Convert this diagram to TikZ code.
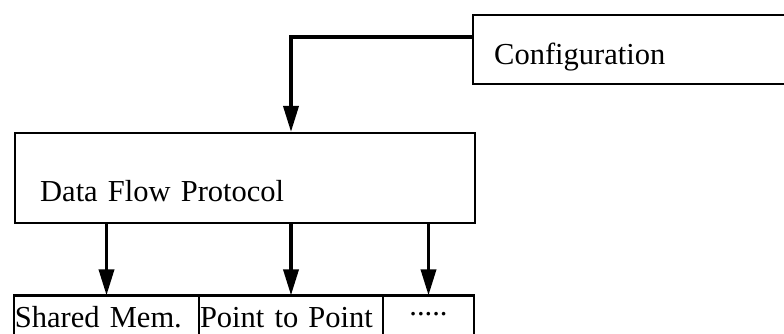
\documentclass[tikz,border=0pt]{standalone}
\usepackage{fontspec}
\setmainfont{Liberation Serif}
\usetikzlibrary{arrows.meta, positioning}

\begin{document}
\begin{tikzpicture}[x=1pt, y=1pt, node distance=0pt,
	box/.style={rectangle, draw, line width=1.2pt, inner ysep=0pt, align=left,
		font=\fontsize{15.25}{18}\selectfont},
	low/.style={box, outer sep=0pt, inner xsep=0.5pt, text height=16pt, text depth=10pt},
	flow/.style={-{Triangle[length=13pt, width=7.5pt]}, draw, line width=1.8pt}]
				\path[use as bounding box, clip] (0,0) rectangle (392,166.5);
				\node [box, anchor=north west, inner xsep=10.5pt, text width=200pt,
					text height=24.5pt, text depth=10pt] (conf) at (236,159.5) {Configuration};
				\node [box, anchor=north west, inner xsep=12.5pt, text width=205pt,
					text height=34pt, text depth=11pt] (dfp) at (7,100.5) {Data Flow Protocol};
				\node [low, text width=91.5pt, below right=35.5pt and 0pt of dfp.south west] (shm) {Shared Mem.};
				\node [low, text width=91pt, right=of shm] (p2p) {Point to Point};
				\node [low, text width=44.5pt, align=center, right=of p2p] (more) {\raisebox{6pt}{.....}};
				
				\path (conf.north west) ++(0,-11.5) coordinate (tap);
				\draw[flow] (tap) -| (dfp.north -| p2p.north);
				\path
				(dfp.south -| shm.north) edge[flow] (shm.north)
				(dfp.south -| p2p.north) edge[flow] (p2p.north)
				(dfp.south -| more.north) edge[flow] (more.north);
			\end{tikzpicture}
\end{document}
